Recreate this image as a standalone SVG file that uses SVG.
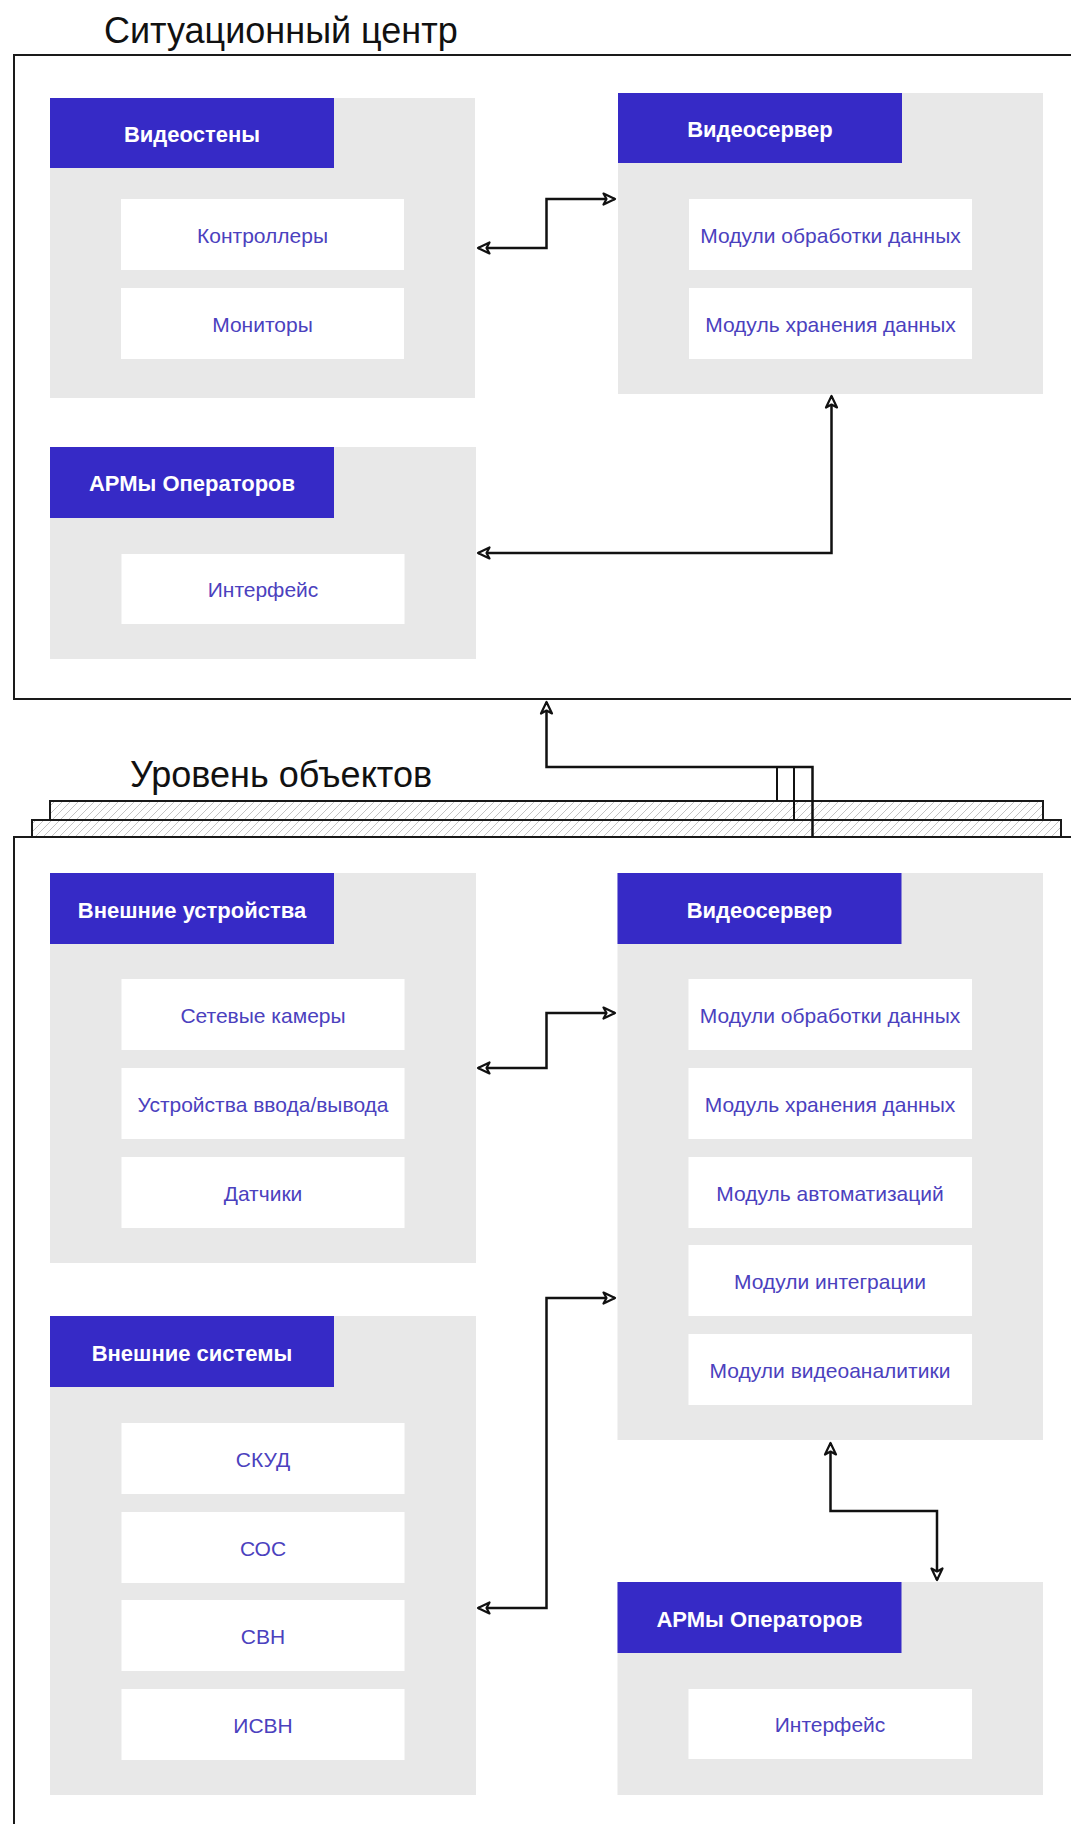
<svg xmlns="http://www.w3.org/2000/svg" width="1071" height="1824" viewBox="0 0 1071 1824">
<defs>
<style>
.frame{fill:none;stroke:#1a1a1a;stroke-width:2}
.grp{fill:#e8e8e8}
.hdr{fill:#362ac6}
.box{fill:#ffffff}
.ht{font-family:"Liberation Sans",Arial,sans-serif;font-weight:bold;font-size:22px;fill:#ffffff;text-anchor:middle}
.it{font-family:"Liberation Sans",Arial,sans-serif;font-size:21px;fill:#4b41be;text-anchor:middle}
.ttl{font-family:"Liberation Sans",Arial,sans-serif;font-size:36px;fill:#111111}
.con{fill:none;stroke:#111111;stroke-width:2.5;stroke-linejoin:miter}
.thin{fill:none;stroke:#111111;stroke-width:2}
.bar{fill:url(#hatch);stroke:#1a1a1a;stroke-width:2}
</style>
<pattern id="hatch" patternUnits="userSpaceOnUse" width="8" height="8">
<rect width="8" height="8" fill="#ffffff"/>
<path d="M-2,2 L2,-2 M0,8 L8,0 M6,10 L10,6" stroke="#c4c4c4" stroke-width="1"/>
</pattern>
<marker id="ah" markerUnits="userSpaceOnUse" markerWidth="16" markerHeight="16" refX="13" refY="7" orient="auto-start-reverse" viewBox="0 0 16 14">
<path d="M1.5,1.5 L13,7 L1.5,12.5 L4.5,7 Z" fill="#ffffff" stroke="#111111" stroke-width="2.2" stroke-linejoin="round"/>
</marker>
</defs>
<rect width="1071" height="1824" fill="#ffffff"/>

<g id="level-center">
<text class="ttl" x="104" y="43">Ситуационный центр</text>
<rect class="frame" x="14" y="55" width="1080" height="644"/>
</g>

<g id="level-objects">
<rect class="bar" x="50" y="801" width="993" height="19"/>
<rect class="bar" x="32" y="820" width="1029" height="17"/>
<text class="ttl" x="130" y="787">Уровень объектов</text>
<rect class="frame" x="14" y="837" width="1080" height="1010"/>
</g>

<g id="videowalls">
<rect class="grp" x="50" y="98" width="425" height="300"/>
<rect class="hdr" x="50" y="98" width="284" height="70"/>
<text class="ht" x="192" y="142">Видеостены</text>
<rect class="box" x="121" y="199" width="283" height="71"/>
<text class="it" x="262.5" y="242.5">Контроллеры</text>
<rect class="box" x="121" y="288" width="283" height="71"/>
<text class="it" x="262.5" y="331.5">Мониторы</text>
</g>

<g id="videoserver-top">
<rect class="grp" x="618" y="93" width="425" height="301"/>
<rect class="hdr" x="618" y="93" width="284" height="70"/>
<text class="ht" x="760" y="137">Видеосервер</text>
<rect class="box" x="689" y="199" width="283" height="71"/>
<text class="it" x="830.5" y="242.5">Модули обработки данных</text>
<rect class="box" x="689" y="288" width="283" height="71"/>
<text class="it" x="830.5" y="331.5">Модуль хранения данных</text>
</g>

<g id="arm-top">
<rect class="grp" x="50" y="447" width="426" height="212"/>
<rect class="hdr" x="50" y="447" width="284" height="71"/>
<text class="ht" x="192" y="491">АРМы Операторов</text>
<rect class="box" x="121.5" y="554" width="283" height="70"/>
<text class="it" x="263" y="597">Интерфейс</text>
</g>

<g id="external-devices">
<rect class="grp" x="50" y="873" width="426" height="390"/>
<rect class="hdr" x="50" y="873" width="284" height="71"/>
<text class="ht" x="192" y="917.5">Внешние устройства</text>
<rect class="box" x="121.5" y="979" width="283" height="71"/>
<text class="it" x="263" y="1022.5">Сетевые камеры</text>
<rect class="box" x="121.5" y="1068" width="283" height="71"/>
<text class="it" x="263" y="1111.5">Устройства ввода/вывода</text>
<rect class="box" x="121.5" y="1157" width="283" height="71"/>
<text class="it" x="263" y="1200.5">Датчики</text>
</g>

<g id="videoserver-bottom">
<rect class="grp" x="617.5" y="873" width="425.5" height="567"/>
<rect class="hdr" x="617.5" y="873" width="284" height="71"/>
<text class="ht" x="759.5" y="917.5">Видеосервер</text>
<rect class="box" x="688.5" y="979" width="283.5" height="71"/>
<text class="it" x="830" y="1022.5">Модули обработки данных</text>
<rect class="box" x="688.5" y="1068" width="283.5" height="71"/>
<text class="it" x="830" y="1111.5">Модуль хранения данных</text>
<rect class="box" x="688.5" y="1157" width="283.5" height="71"/>
<text class="it" x="830" y="1200.5">Модуль автоматизаций</text>
<rect class="box" x="688.5" y="1245" width="283.5" height="71"/>
<text class="it" x="830" y="1288.5">Модули интеграции</text>
<rect class="box" x="688.5" y="1334" width="283.5" height="71"/>
<text class="it" x="830" y="1377.5">Модули видеоаналитики</text>
</g>

<g id="external-systems">
<rect class="grp" x="50" y="1316" width="426" height="479"/>
<rect class="hdr" x="50" y="1316" width="284" height="71"/>
<text class="ht" x="192" y="1360.5">Внешние системы</text>
<rect class="box" x="121.5" y="1423" width="283" height="71"/>
<text class="it" x="263" y="1466.5">СКУД</text>
<rect class="box" x="121.5" y="1512" width="283" height="71"/>
<text class="it" x="263" y="1555.5">СОС</text>
<rect class="box" x="121.5" y="1600" width="283" height="71"/>
<text class="it" x="263" y="1643.5">СВН</text>
<rect class="box" x="121.5" y="1689" width="283" height="71"/>
<text class="it" x="263" y="1732.5">ИСВН</text>
</g>

<g id="arm-bottom">
<rect class="grp" x="617.5" y="1582" width="425.5" height="213"/>
<rect class="hdr" x="617.5" y="1582" width="284" height="71"/>
<text class="ht" x="759.5" y="1626.5">АРМы Операторов</text>
<rect class="box" x="688.5" y="1689" width="283.5" height="70"/>
<text class="it" x="830" y="1732">Интерфейс</text>
</g>

<g id="connectors">
<path class="con" d="M478,248 L546.5,248 L546.5,199 L615,199" marker-start="url(#ah)" marker-end="url(#ah)"/>
<path class="con" d="M831.5,396 L831.5,553 L478,553" marker-start="url(#ah)" marker-end="url(#ah)"/>
<path class="con" d="M812.5,837 L812.5,767 L546.5,767 L546.5,702" marker-end="url(#ah)"/>
<path class="thin" d="M777,767 L777,801"/>
<path class="thin" d="M794,767 L794,820"/>
<path class="con" d="M478,1068 L546.5,1068 L546.5,1013 L615,1013" marker-start="url(#ah)" marker-end="url(#ah)"/>
<path class="con" d="M478,1608 L546.5,1608 L546.5,1298 L615,1298" marker-start="url(#ah)" marker-end="url(#ah)"/>
<path class="con" d="M830.5,1443 L830.5,1511 L937,1511 L937,1580" marker-start="url(#ah)" marker-end="url(#ah)"/>
</g>
</svg>
